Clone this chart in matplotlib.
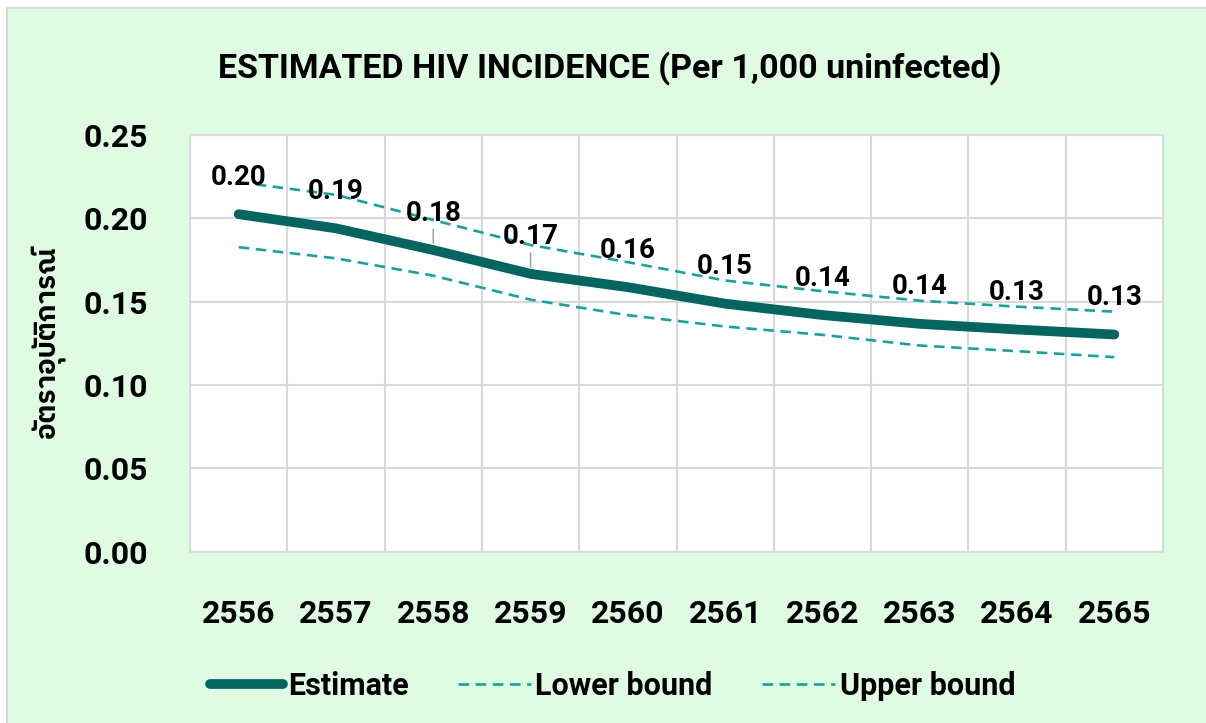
import numpy as np
import matplotlib
matplotlib.use("Agg")
import matplotlib.pyplot as plt
from matplotlib import font_manager
from matplotlib.patches import Rectangle

# values
years = ["2556", "2557", "2558", "2559", "2560", "2561", "2562", "2563", "2564", "2565"]
estimate = [0.2025, 0.194, 0.181, 0.1667, 0.1587, 0.1488, 0.142, 0.1367, 0.1333, 0.1303]
lower = [0.1827, 0.176, 0.1656, 0.1512, 0.1419, 0.1351, 0.1301, 0.1237, 0.1203, 0.1167]
upper = [0.2217, 0.2141, 0.199, 0.184, 0.1737, 0.1627, 0.1563, 0.1506, 0.147, 0.144]
yticks = [0.00, 0.05, 0.10, 0.15, 0.20, 0.25]

BG = "#DFFCE3"
GRID = "#D9D9D9"
DARK = "#00665F"
LIGHT = "#14A3A0"

# look for a Thai-capable font, fall back to the usual ones
names = {f.name for f in font_manager.fontManager.ttflist}
thai = sorted(n for n in names if "Thai" in n)
plt.rcParams["font.family"] = ["Roboto"] + thai + ["DejaVu Sans"]

fig = plt.figure(figsize=(12.06, 7.23), dpi=100, facecolor="white")
fig.patches.append(Rectangle((7 / 1206, -0.01), 1.0, 1 - 8 / 723 + 0.01,
                             transform=fig.transFigure, facecolor=BG,
                             edgecolor=GRID, linewidth=1.5, zorder=-5))

ax = fig.add_axes([190 / 1206, 1 - 551.7 / 723, 973 / 1206, 416.7 / 723])
ax.set_facecolor("white")
x = np.arange(len(years))

ax.plot(x, lower, color=LIGHT, lw=1.9, ls=(0, (4, 2.5)), label="Lower bound", zorder=3)
ax.plot(x, upper, color=LIGHT, lw=1.9, ls=(0, (4, 2.5)), label="Upper bound", zorder=3)
ax.plot(x, estimate, color=DARK, lw=7, solid_capstyle="round", solid_joinstyle="round",
        label="Estimate", zorder=4)

# data labels above the estimate line, leader lines where Excel drew them
for i, v in enumerate(estimate):
    props = None
    if i in (2, 3):
        props = dict(arrowstyle="-", color="#A6A6A6", lw=1.2, shrinkA=0, shrinkB=5)
    ax.annotate(f"{v:.2f}", (x[i], v), xytext=(0, 37), textcoords="offset pixels",
                ha="center", va="center", fontsize=20, fontweight="bold",
                color="black", arrowprops=props, zorder=5)

ax.set_xlim(-0.5, len(years) - 0.5)
ax.set_ylim(0, 0.25)
ax.set_yticks(yticks)
ax.set_yticklabels([f"{t:.2f}" for t in yticks])
ax.set_xticks(x)
ax.set_xticklabels(years)
ax.set_xticks(np.arange(-0.5, len(years), 1), minor=True)
ax.tick_params(axis="both", which="both", length=0, labelsize=23)
ax.tick_params(axis="y", pad=30)
ax.tick_params(axis="x", pad=34)
for lab in ax.get_xticklabels() + ax.get_yticklabels():
    lab.set_fontweight("bold")

ax.grid(True, axis="y", which="major", color=GRID, lw=1.5)
ax.grid(True, axis="x", which="minor", color=GRID, lw=1.5)
ax.grid(False, axis="x", which="major")
ax.set_axisbelow(True)
for s in ax.spines.values():
    s.set_color(GRID)
    s.set_linewidth(1.5)

fig.text(0.506, 1 - 68 / 723, "ESTIMATED HIV INCIDENCE (Per 1,000 uninfected)",
         ha="center", va="center", fontsize=24.5, fontweight="bold")
fig.text(48 / 1206, 1 - 342 / 723, "อัตราอุบัติการณ์", rotation=90,
         ha="center", va="center", fontsize=20, fontweight="bold")

h, l = ax.get_legend_handles_labels()
order = [2, 0, 1]
leg = fig.legend([h[k] for k in order], [l[k] for k in order], loc="center",
                 bbox_to_anchor=(0.508, 1 - 686 / 723), ncol=3, frameon=False,
                 fontsize=22, handlelength=2.4, columnspacing=1.6, handletextpad=0.15)
for t in leg.get_texts():
    t.set_fontweight("bold")

fig.savefig("out.png", dpi=100, facecolor=fig.get_facecolor())
